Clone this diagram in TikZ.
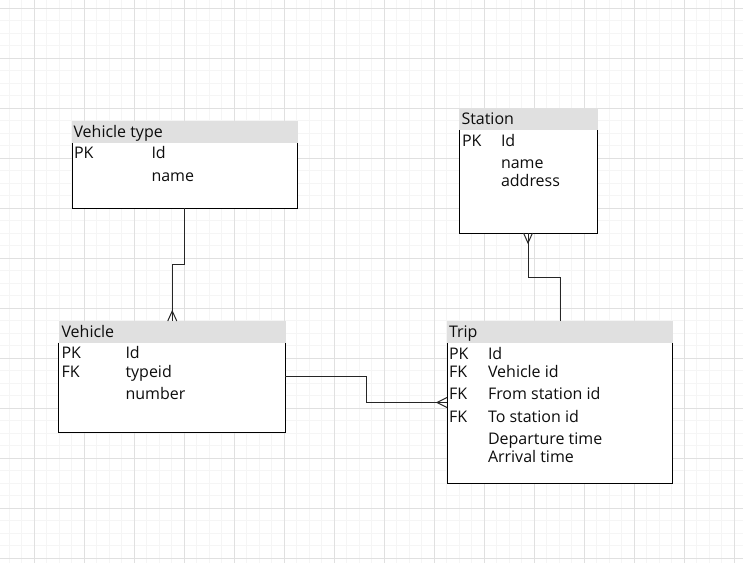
\documentclass[tikz,border=0pt]{standalone}
\usepackage{fontspec}
\setmainfont{Open Sans}
\begin{document}
\begin{tikzpicture}[x=1pt,y=-1pt,
  every node/.style={inner sep=0pt, outer sep=0pt},
  gridminor/.style={draw=black!4, line width=0.8pt},
  gridmajor/.style={draw=black!12, line width=0.8pt},
  thead/.style={fill=black!12, anchor=north west, minimum height=21.5pt},
  tbody/.style={fill=white, anchor=north west},
  tborder/.style={draw=black, line width=1pt},
  label/.style={anchor=base west, font=\fontsize{16}{18}\selectfont, text=black!95},
  link/.style={draw=black!85, line width=1pt},
  foot/.style={draw=black!85, line width=1pt}
]
% canvas and background grid
\useasboundingbox (0,0) rectangle (743,563);
\fill[white] (0,0) rectangle (743,563);
\foreach \i in {0,...,59} {
  \draw[gridminor] ({9+12.5*\i},0) -- ({9+12.5*\i},563);
}
\foreach \i in {0,...,45} {
  \draw[gridminor] (0,{8.3+12.5*\i}) -- (743,{8.3+12.5*\i});
}
\foreach \i in {0,...,14} {
  \draw[gridmajor] ({34+50*\i},0) -- ({34+50*\i},563);
}
\foreach \i in {0,...,11} {
  \draw[gridmajor] (0,{8.3+50*\i}) -- (743,{8.3+50*\i});
}

% ---- Vehicle type table
\node[tbody, minimum width=225pt, minimum height=66pt] (vtbox) at (72,142) {};
\draw[tborder] (vtbox.north west) -- (vtbox.south west) -- (vtbox.south east) -- (vtbox.north east);
\node[thead, minimum width=226pt] (vthead) at (72,121) {};
\node[label] (vtname) at (73.5,137) {Vehicle type};
\node[label] (vtk1) at (74,158) {PK};
\node[label] (vtf1) at (151.5,158) {Id};
\node[label] (vtf2) at (151.5,181.5) {name};

% ---- Station table
\node[tbody, minimum width=138pt, minimum height=103pt] (stbox) at (459,130) {};
\draw[tborder] (stbox.north west) -- (stbox.south west) -- (stbox.south east) -- (stbox.north east);
\node[thead, minimum width=139pt, minimum height=22pt] (sthead) at (459,108) {};
\node[label] (stname) at (461.5,124) {Station};
\node[label] (stk1) at (462,146.5) {PK};
\node[label] (stf1) at (501,146.5) {Id};
\node[label] (stf2) at (501,168.5) {name};
\node[label] (stf3) at (501,186.5) {address};

% ---- Vehicle table
\node[tbody, minimum width=226.5pt, minimum height=90pt] (vbox) at (58.5,342.5) {};
\draw[tborder] (vbox.north west) -- (vbox.south west) -- (vbox.south east) -- (vbox.north east);
\node[thead, minimum width=227.5pt] (vhead) at (58.5,321) {};
\node[label] (vname) at (61.5,337) {Vehicle};
\node[label] (vk1) at (61.5,358.5) {PK};
\node[label] (vf1) at (125.5,358.5) {Id};
\node[label] (vk2) at (61.5,377) {FK};
\node[label] (vf2) at (125.5,377) {typeid};
\node[label] (vf3) at (125.5,399) {number};

% ---- Trip table
\node[tbody, minimum width=225pt, minimum height=141pt] (tbox) at (447,342.5) {};
\draw[tborder] (tbox.north west) -- (tbox.south west) -- (tbox.south east) -- (tbox.north east);
\node[thead, minimum width=226pt] (thead) at (447,321) {};
\node[label] (tname) at (449,337) {Trip};
\node[label] (tk1) at (449,359.5) {PK};
\node[label] (tf1) at (488,359.5) {Id};
\node[label] (tk2) at (449,377) {FK};
\node[label] (tf2) at (488,377) {Vehicle id};
\node[label] (tk3) at (449,399.5) {FK};
\node[label] (tf3) at (488,399.5) {From station id};
\node[label] (tk4) at (449,422) {FK};
\node[label] (tf4) at (488,422) {To station id};
\node[label] (tf5) at (488,444) {Departure time};
\node[label] (tf6) at (488,462) {Arrival time};

% ---- relationships (crow's foot on the many side)
% Vehicle type 1 -- n Vehicle
\draw[link] (vtbox.south) -- ++(0,56) -| (vhead.north);
\draw[foot] ([xshift=-4.5pt]vhead.north) -- ([yshift=10pt]vhead.north) -- ([xshift=4.5pt]vhead.north);

% Station 1 -- n Trip
\draw[link] (thead.north) -- ++(0,-44) -| (stbox.south);
\draw[foot] ([xshift=-4.5pt]stbox.south) -- ([yshift=-10pt]stbox.south) -- ([xshift=4.5pt]stbox.south);

% Vehicle 1 -- n Trip
\draw[link] ([yshift=11pt]vbox.east) -- ++(81,0) |- ([yshift=10.5pt]tbox.west);
\draw[foot] ([yshift=15.5pt]tbox.west) -- ([xshift=-10pt,yshift=10.5pt]tbox.west) -- ([yshift=5.5pt]tbox.west);
\end{tikzpicture}
\end{document}
